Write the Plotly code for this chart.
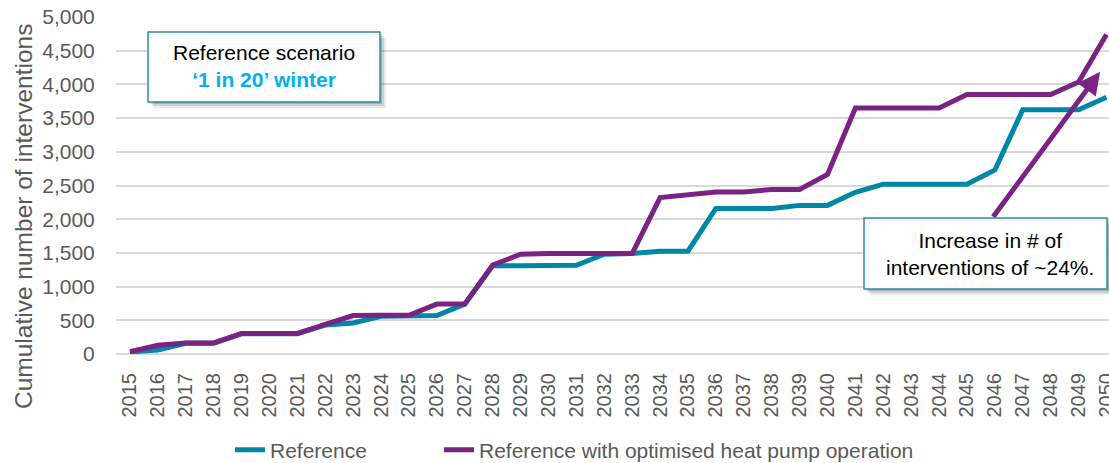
import plotly.graph_objects as go

years = [str(y) for y in range(2015, 2051)]
reference = [30, 60, 160, 160, 300, 300, 300, 430, 460, 560, 570, 570, 740, 1310, 1310, 1315, 1315, 1480, 1490, 1525, 1525, 2160, 2160, 2160, 2205, 2205, 2400, 2520, 2520, 2520, 2520, 2730, 3625, 3625, 3625, 3810]
optimised = [35, 130, 165, 165, 305, 305, 305, 440, 570, 575, 575, 740, 740, 1320, 1480, 1490, 1490, 1490, 1490, 2320, 2365, 2405, 2405, 2440, 2440, 2663, 3650, 3650, 3650, 3650, 3850, 3850, 3850, 3850, 4035, 4740]
y_ticks = list(range(0, 5001, 500))

TEAL = "#0087A8"
PURPLE = "#7A2383"
BOX_BORDER = "#2A8DAA"
GRAY_TXT = "#595959"
FONT = "Liberation Sans, Arial, sans-serif"

fig = go.Figure()
fig.add_trace(go.Scatter(x=years, y=reference, mode="lines", name="Reference",
                         line=dict(color=TEAL, width=5), legend="legend"))
fig.add_trace(go.Scatter(x=years, y=optimised, mode="lines",
                         name="Reference with optimised heat pump operation",
                         line=dict(color=PURPLE, width=5), legend="legend2"))

L, R, T, B = 116, 0, 17, 109
W, H = 1109, 463
pw, ph = W - L - R, H - T - B

def px(xp):
    return (xp - L) / pw

def py(yp):
    return (H - B - yp) / ph

shapes = []
def box(x0, y0, x1, y1):
    for off, op in ((6, 0.08), (4, 0.12), (2, 0.15)):
        shapes.append(dict(type="rect", xref="paper", yref="paper",
                           x0=px(x0 + off), x1=px(x1 + off), y0=py(y1 + off), y1=py(y0 + off),
                           fillcolor=f"rgba(0,0,0,{op})", line=dict(width=0), layer="above"))
    shapes.append(dict(type="rect", xref="paper", yref="paper",
                       x0=px(x0), x1=px(x1), y0=py(y1), y1=py(y0),
                       fillcolor="white", line=dict(color=BOX_BORDER, width=1.5), layer="above"))

box(148, 32, 380, 102)
box(864, 218, 1107, 289)

annotations = [
    dict(xref="paper", yref="paper", x=px(264), y=py(66), xanchor="center", yanchor="middle",
         showarrow=False,
         text="Reference scenario<br><b><span style='color:#00B0F0'>‘1 in 20’ winter</span></b>",
         font=dict(family=FONT, size=21, color="black"), align="center"),
    dict(xref="paper", yref="paper", x=px(990), y=py(254), xanchor="center", yanchor="middle",
         showarrow=False,
         text="Increase in # of<br>interventions of ~24%.",
         font=dict(family=FONT, size=21, color="black"), align="center"),
    dict(xref="paper", yref="paper", x=px(23), y=py(217), xanchor="center", yanchor="middle",
         showarrow=False, textangle=-90,
         text="Cumulative number of interventions",
         font=dict(family=FONT, size=24.5, color=GRAY_TXT)),
    dict(xref="x", yref="y", axref="x", ayref="y", x=34.77, y=4188, ax=30.9, ay=2013,
         text="", showarrow=True, arrowhead=2, arrowsize=0.9, arrowwidth=5,
         arrowcolor=PURPLE, standoff=0, startstandoff=0),
]

leg_common = dict(orientation="h", xref="container", yref="container",
                  xanchor="left", yanchor="middle", y=0.028,
                  font=dict(family=FONT, size=21, color=GRAY_TXT),
                  bgcolor="rgba(0,0,0,0)")

fig.update_layout(
    width=W, height=H,
    margin=dict(l=L, r=R, t=T, b=B),
    plot_bgcolor="white", paper_bgcolor="white",
    font=dict(family=FONT, size=21, color=GRAY_TXT),
    shapes=shapes, annotations=annotations,
    legend=dict(x=230 / W, **leg_common),
    legend2=dict(x=439 / W, **leg_common),
    showlegend=True,
)
fig.update_xaxes(type="category", range=[-0.5, 35.09], tickangle=-90, automargin=False,
                 tickfont=dict(size=20, color=GRAY_TXT), showgrid=False,
                 ticks="outside", ticklen=10, tickcolor="rgba(0,0,0,0)",
                 showline=False, zeroline=False)
fig.update_yaxes(range=[0, 5000], tickvals=y_ticks, tickformat=",d", automargin=False,
                 tickfont=dict(size=21, color=GRAY_TXT),
                 showgrid=True, gridcolor="#D9D9D9", gridwidth=1.5,
                 zeroline=True, zerolinecolor="#D9D9D9", zerolinewidth=1.5,
                 ticks="outside", ticklen=16, tickcolor="rgba(0,0,0,0)")

fig.write_html("out.html", config={"displayModeBar": False},
               post_script="document.body.style.margin='0px';document.body.style.overflow='hidden';")
